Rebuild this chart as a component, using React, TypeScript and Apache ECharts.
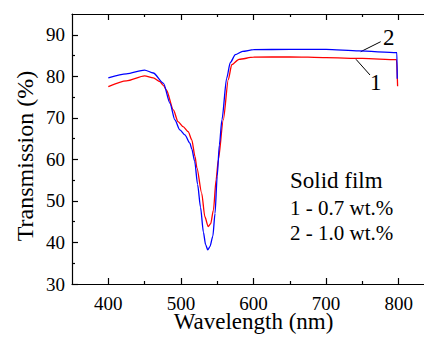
import React, { useEffect, useRef } from "react";
import * as echarts from "echarts";

const xMajor = [400, 500, 600, 700, 800];
const xMinor = [450, 550, 650, 750];
const yMajor = [30, 40, 50, 60, 70, 80, 90];
const yMinor = [35, 45, 55, 65, 75, 85];

const redX = [400, 425, 450, 462, 471, 476, 480, 489.6, 496, 503, 510, 515, 519.4, 522, 528.6, 533, 537.6, 541, 544.8, 548.5, 551.5, 558.4, 565.3, 570, 580, 600, 650, 700, 750, 797, 798.5];
const redY = [77.5, 78.9, 80.1, 79.6, 78.7, 77.8, 76.7, 71.9, 69.1, 67.9, 66.7, 64.7, 60.7, 58.0, 51.9, 46.2, 43.8, 44.5, 47.8, 55.1, 59.9, 69.5, 79.2, 82.8, 84.1, 84.6, 84.7, 84.5, 84.3, 84.0, 77.6];

const blueX = [400, 425, 450, 462, 476, 485, 491.7, 498.6, 505.5, 512.4, 515, 519, 523, 527, 531, 534, 537, 540, 544, 547, 550, 553, 556.5, 563, 568, 575, 585, 600, 650, 700, 745, 797.5, 798];
const blueY = [79.6, 80.6, 81.5, 80.8, 78.3, 73.5, 69.5, 67.1, 65.9, 63.9, 62.5, 59.5, 54.0, 48.5, 42.5, 39.5, 38.2, 39.0, 41.5, 47.0, 56.0, 63.5, 69.5, 79.5, 83.3, 85.2, 86.0, 86.4, 86.5, 86.5, 86.1, 85.7, 79.4];

const FONT = "Liberation Serif";

export default function App() {
  const ref = useRef<HTMLDivElement>(null);
  useEffect(() => {
    if (!ref.current) return;
    const chart = echarts.init(ref.current, null, { renderer: "svg" });
    const tickStyle = { color: "#000", width: 1.2 };
    const gridBox = { left: 72, top: 14, width: 363, height: 270, containLabel: false, outerBoundsMode: "none" };
    const xAx = (grid: number, pos: string, ticks: number[], len: number, labels: boolean, line: boolean, name?: string) => ({
      type: "value",
      gridIndex: grid,
      position: pos,
      min: 350,
      max: 850,
      axisLine: { show: line, lineStyle: tickStyle },
      axisTick: { show: true, inside: true, length: len, customValues: ticks, lineStyle: tickStyle },
      axisLabel: labels
        ? { show: true, customValues: ticks, fontSize: 19, fontFamily: FONT, color: "#000", margin: 10 }
        : { show: false },
      splitLine: { show: false },
      name: name || "",
      nameLocation: "middle",
      nameGap: 26,
      nameMoveOverlap: false,
      nameTextStyle: { fontSize: 23, fontFamily: FONT, color: "#000" },
    });
    const option = {
      animation: false,
      backgroundColor: "#fff",
      textStyle: { fontFamily: FONT },
      grid: [gridBox, gridBox],
      xAxis: [
        xAx(0, "bottom", xMajor, 6, true, true, "Wavelength (nm)"),
        xAx(0, "top", xMajor, 6, false, true),
        xAx(1, "bottom", xMinor, 3, false, false),
        xAx(1, "top", xMinor, 3, false, false),
      ],
      yAxis: [
        {
          type: "value",
          gridIndex: 0,
          position: "left",
          min: 30,
          max: 95,
          axisLine: { show: true, lineStyle: tickStyle },
          axisTick: { show: true, inside: true, length: 6, customValues: yMajor, lineStyle: tickStyle },
          axisLabel: { show: true, customValues: yMajor, fontSize: 19, fontFamily: FONT, color: "#000", margin: 7 },
          splitLine: { show: false },
          name: "Transmission (%)",
          nameLocation: "middle",
          nameRotate: 90,
          nameGap: 35,
          nameMoveOverlap: false,
          nameTextStyle: { fontSize: 24, fontFamily: FONT, color: "#000", padding: [0, 14, 0, 0] },
        },
        {
          type: "value",
          gridIndex: 1,
          position: "left",
          min: 30,
          max: 95,
          axisLine: { show: false },
          axisTick: { show: true, inside: true, length: 3, customValues: yMinor, lineStyle: tickStyle },
          axisLabel: { show: false },
          splitLine: { show: false },
        },
      ],
      series: [
        {
          name: "1 - 0.7 wt.%",
          type: "line",
          xAxisIndex: 0,
          yAxisIndex: 0,
          data: redX.map((x, i) => [x, redY[i]]),
          showSymbol: false,
          smooth: 0.25,
          smoothMonotone: "x",
          lineStyle: { color: "#ff0000", width: 1.3 },
          itemStyle: { color: "#ff0000" },
        },
        {
          name: "2 - 1.0 wt.%",
          type: "line",
          xAxisIndex: 0,
          yAxisIndex: 0,
          data: blueX.map((x, i) => [x, blueY[i]]),
          showSymbol: false,
          smooth: 0.25,
          smoothMonotone: "x",
          lineStyle: { color: "#0000ff", width: 1.3 },
          itemStyle: { color: "#0000ff" },
        },
      ],
      graphic: [
        { type: "text", x: 290, y: 180.5, style: { text: "Solid film", fontSize: 23, fontFamily: FONT, fill: "#000", verticalAlign: "middle" } },
        { type: "text", x: 290, y: 207.9, style: { text: "1 - 0.7 wt.%", fontSize: 21, fontFamily: FONT, fill: "#000", verticalAlign: "middle" } },
        { type: "text", x: 290, y: 232.9, style: { text: "2 - 1.0 wt.%", fontSize: 21, fontFamily: FONT, fill: "#000", verticalAlign: "middle" } },
        { type: "text", x: 383, y: 37.2, style: { text: "2", fontSize: 23, fontFamily: FONT, fill: "#000", verticalAlign: "middle" } },
        { type: "text", x: 370, y: 82.2, style: { text: "1", fontSize: 23, fontFamily: FONT, fill: "#000", verticalAlign: "middle" } },
        { type: "line", shape: { x1: 380.7, y1: 41.7, x2: 360.7, y2: 51.7 }, style: { stroke: "#000", lineWidth: 1 } },
        { type: "line", shape: { x1: 370, y1: 75, x2: 356, y2: 59.3 }, style: { stroke: "#000", lineWidth: 1 } },
      ],
    };
    chart.setOption(option as any);
    return () => chart.dispose();
  }, []);
  return (
    <div
      ref={ref}
      style={{ position: "fixed", left: 0, top: 0, width: 424, height: 337, background: "#fff", overflow: "hidden" }}
    />
  );
}
